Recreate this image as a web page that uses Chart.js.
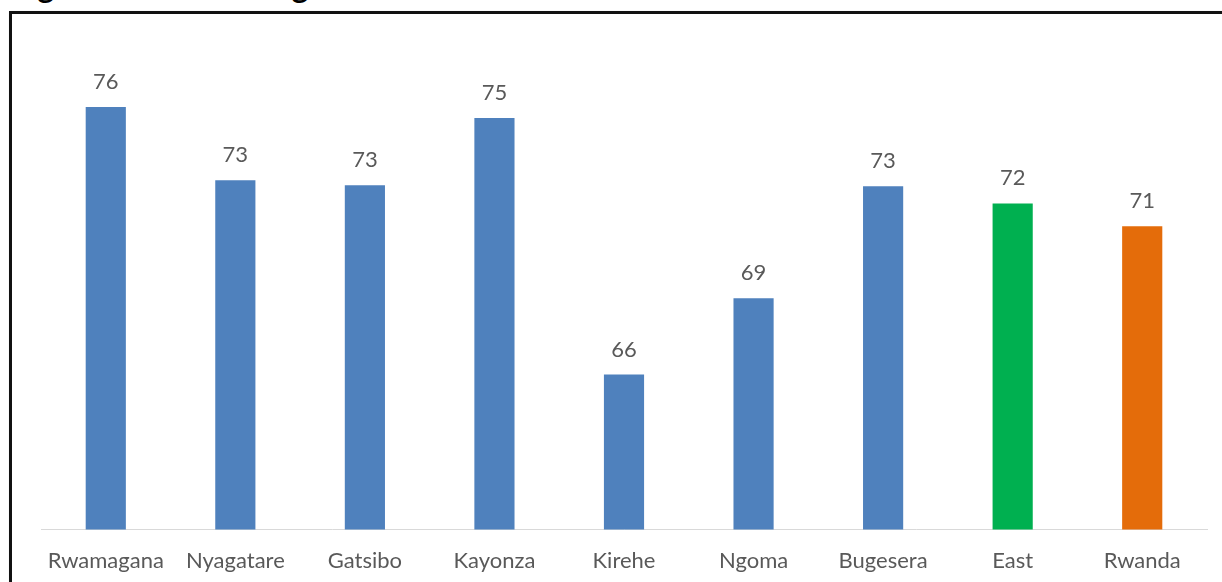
<!DOCTYPE html>
<html>
<head>
<meta charset="utf-8">
<script src="https://cdn.jsdelivr.net/npm/chart.js@4"></script>
<style>
    html, body { margin: 0; padding: 0; background: #fff; overflow: hidden; }
    body { width: 1222px; height: 582px; position: relative; }
    #title {
        position: absolute; left: 12px; top: -33px;
        font: bold 31px Lato, sans-serif; color: #000; white-space: nowrap; word-spacing: 6px;
    }
    #frame {
        position: absolute; left: 9px; top: 11px; width: 1400px; height: 800px;
        border: 3px solid #111; box-shadow: 1px 1px 2px #bbb;
    }
    #wrap { position: absolute; left: 0; top: 0; width: 1222px; height: 604px; }
</style>
</head>
<body>
<div id="title">Figure 17: Percentage</div>
<div id="frame"></div>
<div id="wrap"><canvas id="districtChart"></canvas></div>
<script>
    const districts = ['Rwamagana', 'Nyagatare', 'Gatsibo', 'Kayonza', 'Kirehe', 'Ngoma', 'Bugesera', 'East', 'Rwanda'];
    const rates = [75.75, 73.02, 72.84, 75.34, 65.78, 68.62, 72.8, 72.16, 71.31];
    const barColors = ['#4F81BD', '#4F81BD', '#4F81BD', '#4F81BD', '#4F81BD', '#4F81BD', '#4F81BD', '#00B050', '#E46C0A'];

    const labelFont = '22px Lato, sans-serif';

    // value labels above each bar
    const valueLabels = {
        id: 'valueLabels',
        afterDatasetsDraw(chart) {
            const ctx = chart.ctx;
            const meta = chart.getDatasetMeta(0);
            ctx.save();
            ctx.font = labelFont;
            ctx.fillStyle = '#595959';
            ctx.textAlign = 'center';
            ctx.textBaseline = 'bottom';
            meta.data.forEach((bar, i) => {
                ctx.fillText(Math.round(rates[i]), bar.x, bar.y - 14);
            });
            ctx.restore();
        }
    };

    new Chart(document.getElementById('districtChart'), {
        type: 'bar',
        data: {
            labels: districts,
            datasets: [{
                data: rates,
                backgroundColor: barColors,
                borderWidth: 0,
                barPercentage: 1,
                categoryPercentage: 0.31
            }]
        },
        options: {
            responsive: true,
            maintainAspectRatio: false,
            animation: false,
            layout: {
                padding: {left: 41, right: 15, top: 40, bottom: 12}
            },
            plugins: {
                legend: {display: false},
                tooltip: {enabled: false}
            },
            scales: {
                x: {
                    grid: {display: false, drawTicks: false},
                    border: {color: '#D9D9D9', width: 1},
                    ticks: {
                        color: '#595959',
                        font: {size: 22, family: 'Lato'},
                        padding: 18,
                        maxRotation: 0,
                        autoSkip: false
                    }
                },
                y: {
                    display: false,
                    min: 60,
                    max: 78.25
                }
            }
        },
        plugins: [valueLabels]
    });
</script>
</body>
</html>
